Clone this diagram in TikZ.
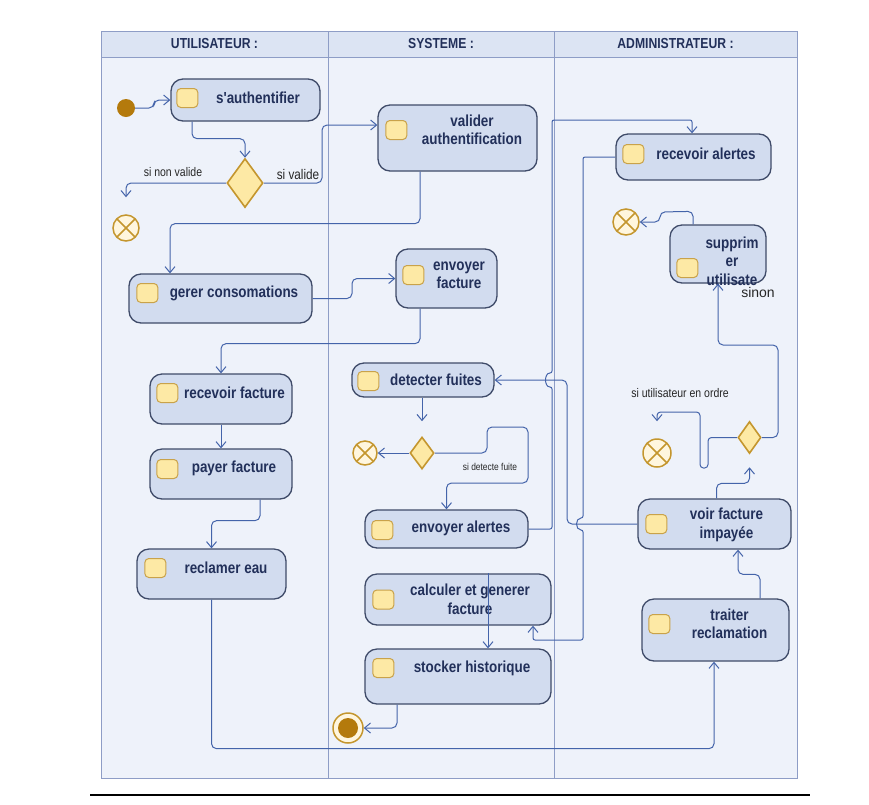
\documentclass[tikz,border=0pt]{standalone}
\usepackage{fontspec}
\setmainfont{Liberation Sans}
\newfontfamily\narrowfont{Liberation Sans}[FakeStretch=0.84]
\usetikzlibrary{arrows.meta,shapes.geometric}
\definecolor{lanebody}{HTML}{EEF2FA}
\definecolor{lanehead}{HTML}{DCE4F3}
\definecolor{laneline}{HTML}{8E9DC6}
\definecolor{boxfill}{HTML}{D2DCEF}
\definecolor{boxline}{HTML}{3F4B69}
\definecolor{boxtext}{HTML}{22305A}
\definecolor{icfill}{HTML}{FDE9A5}
\definecolor{icline}{HTML}{C9A24A}
\definecolor{decline}{HTML}{C4962E}
\definecolor{fffill}{HTML}{FFF6DE}
\definecolor{dotfill}{HTML}{B47A0C}
\definecolor{link}{HTML}{4464AA}
\begin{document}
\begin{tikzpicture}[x=1pt, y=-1pt,
  act/.style={draw=boxline, fill=boxfill, rounded corners=12pt, line width=1.3pt, inner sep=0pt},
  txt/.style={align=center, text=boxtext, font=\narrowfont\bfseries\fontsize{16}{18.5}\selectfont},
  ic/.style={draw=icline, fill=icfill, rounded corners=4pt, minimum width=21pt, minimum height=19pt, inner sep=0pt, line width=1pt},
  dec/.style={diamond, draw=decline, fill=icfill, inner sep=0pt, line width=1.6pt},
  ff/.style={circle, draw=decline, fill=fffill, inner sep=0pt, line width=1.5pt,
    path picture={\draw[decline, line width=1.6pt] (path picture bounding box.north west) -- (path picture bounding box.south east)
      (path picture bounding box.north east) -- (path picture bounding box.south west);}},
  ini/.style={circle, fill=dotfill, minimum size=18pt, inner sep=0pt},
  fin/.style={circle, draw=decline, fill=fffill, line width=1.5pt, minimum size=30pt, inner sep=0pt,
    path picture={\fill[dotfill] (path picture bounding box.center) circle[radius=10pt];}},
  head/.style={text=boxtext, font=\narrowfont\bfseries\fontsize{14.5}{16}\selectfont},
  lbl/.style={text=black!85, font=\narrowfont\fontsize{12.5}{14}\selectfont},
  a/.style={-{Straight Barb[length=6pt,width=10pt]}, draw=link, line width=1pt, rounded corners=5pt}]
 \useasboundingbox (0,0) rectangle (869,804);
 % Lanes
 \fill[lanebody] (101,31) rectangle (797,778);
 \fill[lanehead] (101,31) rectangle (797,57);
 \draw[laneline, line width=1pt] (101,31) rectangle (797,778) (101,57) -- (797,57)
   (328,31) -- (328,778) (554,31) -- (554,778);
 \node[head] (h-user) at (214.5,44) {UTILISATEUR :};
 \node[head] (h-sys) at (441,44) {SYSTEME :};
 \node[head] (h-admin) at (675.5,44) {ADMINISTRATEUR :};
 \draw[line width=1.4pt] (90,795) -- (810,795);
 % Utilisateur
 \node[ini] (init) at (126,108) {};
 \node[act, minimum width=149pt, minimum height=42pt, label={[txt, xshift=12.5pt, yshift=2pt]center:s'authentifier}] (auth) at (245.5,100) {};
 \node[ic] (auth-i) at ([xshift=17pt, yshift=2pt]auth.west) {};
 \node[dec, minimum width=36pt, minimum height=49pt] (dec1) at (245,183) {};
 \node[ff, minimum size=26pt] (ff1) at (126,228) {};
 \node[act, minimum width=183pt, minimum height=49pt, label={[txt, xshift=13.5pt, yshift=5.5pt]center:gerer consomations}] (gerer) at (220.5,298.5) {};
 \node[ic] (gerer-i) at ([xshift=19pt, yshift=5.5pt]gerer.west) {};
 \node[act, minimum width=142pt, minimum height=50pt, label={[txt, xshift=13.5pt, yshift=6pt]center:recevoir facture}] (recfac) at (221,399) {};
 \node[ic] (recfac-i) at ([xshift=18pt, yshift=6pt]recfac.west) {};
 \node[act, minimum width=142pt, minimum height=50pt, label={[txt, xshift=13pt, yshift=6pt]center:payer facture}] (payfac) at (221,474) {};
 \node[ic] (payfac-i) at ([xshift=18pt, yshift=5pt]payfac.west) {};
 \node[act, minimum width=149pt, minimum height=50pt, label={[txt, xshift=14.5pt, yshift=6pt]center:reclamer eau}] (recl) at (211.5,574) {};
 \node[ic] (recl-i) at ([xshift=19pt, yshift=6pt]recl.west) {};
 % Systeme
 \node[act, minimum width=159pt, minimum height=66pt, label={[txt, xshift=14.5pt, yshift=8pt]center:valider\\authentification}] (valid) at (457.5,138) {};
 \node[ic] (valid-i) at ([xshift=19pt, yshift=8pt]valid.west) {};
 \node[act, minimum width=101pt, minimum height=59pt, label={[txt, xshift=12.5pt, yshift=3pt]center:envoyer\\facture}] (envfac) at (446.5,278.5) {};
 \node[ic] (envfac-i) at ([xshift=18pt, yshift=3.5pt]envfac.west) {};
 \node[act, minimum width=142pt, minimum height=34pt, label={[txt, xshift=13pt]center:detecter fuites}] (detect) at (423,380) {};
 \node[ic] (detect-i) at ([xshift=17pt, yshift=-1pt]detect.west) {};
 \node[dec, minimum width=24pt, minimum height=32pt] (dec3) at (422,453) {};
 \node[ff, minimum size=24pt] (ff4) at (365,453) {};
 \node[act, minimum width=163pt, minimum height=38pt, label={[txt, xshift=14.5pt, yshift=1pt]center:envoyer alertes}] (envalert) at (446.5,529) {};
 \node[ic] (envalert-i) at ([xshift=18pt, yshift=-1pt]envalert.west) {};
 \node[act, minimum width=186pt, minimum height=51pt, label={[txt, xshift=12pt]center:calculer et generer\\facture}] (calc) at (458,599.5) {};
 \node[ic] (calc-i) at ([xshift=19pt]calc.west) {};
 \node[act, minimum width=186pt, minimum height=55pt, label={[txt, xshift=14pt, yshift=8.5pt]center:stocker historique}] (stock) at (458,676.5) {};
 \node[ic] (stock-i) at ([xshift=19pt, yshift=8.5pt]stock.west) {};
 \node[fin] (final) at (348,728) {};
 % Administrateur
 \node[act, minimum width=155pt, minimum height=46pt, label={[txt, xshift=12.5pt, yshift=3pt]center:recevoir alertes}] (recalert) at (693.5,157) {};
 \node[ic] (recalert-i) at ([xshift=18pt, yshift=3pt]recalert.west) {};
 \node[ff, minimum size=26pt] (ff2) at (626,222) {};
 \node[act, minimum width=96pt, minimum height=58pt, label={[txt, xshift=14pt, yshift=-7pt]center:supprim\\er\\utilisate}] (suppr) at (718,254) {};
 \node[ic] (suppr-i) at ([xshift=18pt, yshift=-14pt]suppr.west) {};
 \node[dec, minimum width=23pt, minimum height=32pt] (dec2) at (749.5,437.5) {};
 \node[ff, minimum size=28pt] (ff3) at (657,453) {};
 \node[act, minimum width=153pt, minimum height=50pt, label={[txt, xshift=12pt, yshift=-1pt]center:voir facture\\impayée}] (voir) at (714.5,524) {};
 \node[ic] (voir-i) at ([xshift=19pt]voir.west) {};
 \node[act, minimum width=147pt, minimum height=62pt, label={[txt, xshift=14pt, yshift=6pt]center:traiter\\reclamation}] (trait) at (715.5,630) {};
 \node[ic] (trait-i) at ([xshift=18pt, yshift=6pt]trait.west) {};
 % Flows
 \draw[a] (init.east) -- (154,108) |- (auth.west);
 \draw[a] ([xshift=-53.5pt]auth.south) -- ++(0,17) -| (dec1.north);
 \draw[a] (dec1.west) -| ([yshift=17pt]ff1.north);
 \node[lbl] (l-nonvalide) at (173,172) {si non valide};
 \draw[a] (dec1.east) -- (322,183) |- ([yshift=13pt]valid.west);
 \node[lbl, font=\narrowfont\fontsize{14}{16}\selectfont] (l-valide) at (298,174) {si valide};
 \draw[a] ([xshift=-37.5pt]valid.south) -- ++(0,52) -| ([xshift=-50.5pt]gerer.north);
 \draw[a] (gerer.east) -- (352,298.5) |- (envfac.west);
 \draw[a] ([xshift=-26.5pt]envfac.south) -- ++(0,35) -| (recfac.north);
 \draw[a] (recfac.south) -- (payfac.north);
 \draw[a] ([xshift=39pt]payfac.south) -- ++(0,21) -| (recl.north);
 \draw[a] (recl.south) -- ++(0,149) -| ([xshift=-1.5pt]trait.south);
 \draw[a] ([xshift=44.5pt]trait.north) -- ++(0,-24) -| ([xshift=23.5pt]voir.south);
 \draw[a] ([xshift=2pt]voir.north) -- ++(0,-15) -| ([yshift=-13pt]dec2.south);
 \draw[a] (dec2.east) -| (778,345) -| (suppr.south);
 \node[lbl, font=\fontsize{14}{16}\selectfont] (l-sinon) at (758,292) {sinon};
 \draw[a, rounded corners=3.5pt] (dec2.west) -- (708,437.5) -- (708,468) -- (700,468) -- (700,412) -| ([yshift=17pt]ff3.north);
 \node[lbl] (l-ordre) at (680,393) {si utilisateur en ordre};
 \draw[a] ([xshift=-25pt]suppr.north) -- ++(0,-13) -- (660,212) -- (660,222) -- (ff2.east);
 \draw[a] (voir.west) -| (567,380) -- (detect.east);
 \draw[a] ([xshift=-1pt]detect.south) -- ([yshift=15pt]dec3.north);
 \draw[a] (dec3.west) -- (ff4.east);
 \draw[a] (dec3.east) -| (487,427) -| (528,483) -| (envalert.north);
 \node[lbl, font=\narrowfont\fontsize{10}{11}\selectfont] (l-fuite) at (490,467) {si detecte fuite};
 \draw[a, rounded corners=2pt] (envalert.east) -- (552,529) -- (552,387) .. controls (544,387) and (544,373) .. (552,373) -- (552,120) -| ([xshift=-1.5pt]recalert.north);
 \draw[a, rounded corners=2pt] (recalert.west) -- (583,157) -- (583,518) .. controls (575,518) and (575,530) .. (583,530) -- (583,640) -| ([xshift=75pt]calc.south);
 \draw[a] ([xshift=30pt]calc.north) -- ([xshift=30pt]stock.north);
 \draw[a] ([xshift=-61pt]stock.south) |- (final.east);
\end{tikzpicture}
\end{document}
